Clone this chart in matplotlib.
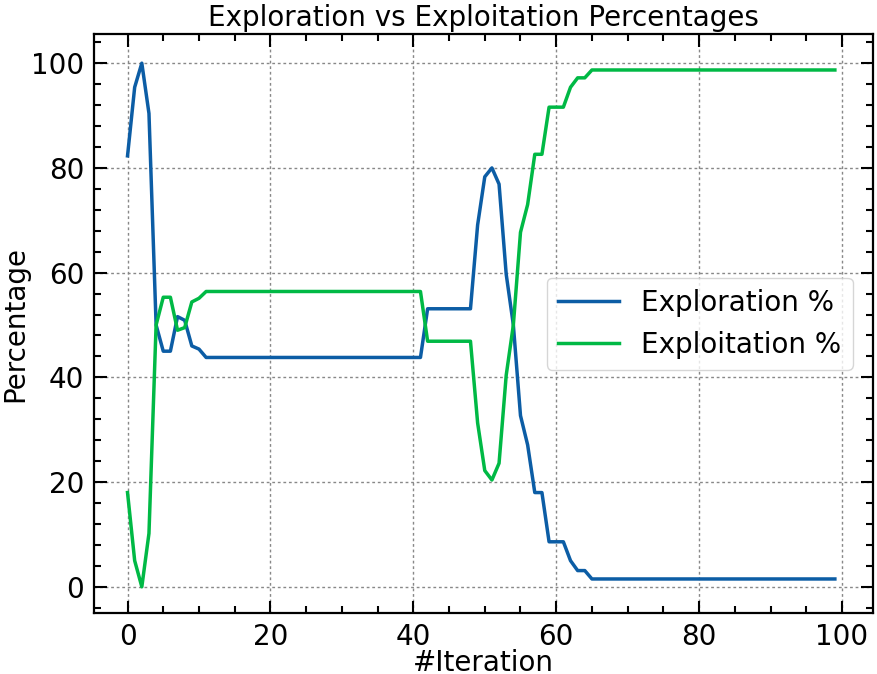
import numpy as np
import matplotlib.pyplot as plt
from matplotlib.ticker import MultipleLocator

# --- data ---
iterations = np.arange(100)

exploration_head = [82.3, 95.4, 100.0, 90.4, 50.0, 45.0, 45.0, 51.6, 50.9, 46.0, 45.4]
exploitation_head = [18.0, 5.0, 0.0, 10.2, 50.0, 55.3, 55.3, 49.0, 49.5, 54.4, 55.1]

# flat stretch, iterations 11..41
exploration_plateau = [43.8] * 31
exploitation_plateau = [56.4] * 31

# iterations 42..65
exploration_mid = [53.1, 53.1, 53.1, 53.1, 53.1, 53.1, 53.1, 69.1, 78.3, 80.0, 76.9, 59.7,
                   50.0, 32.7, 27.1, 18.0, 18.0, 8.6, 8.6, 8.6, 5.0, 3.1, 3.1, 1.5]
exploitation_mid = [46.9, 46.9, 46.9, 46.9, 46.9, 46.9, 46.9, 31.3, 22.2, 20.4, 23.6, 40.4,
                    50.0, 67.7, 73.0, 82.6, 82.6, 91.6, 91.6, 91.6, 95.4, 97.2, 97.2, 98.7]

# iterations 66..99
exploration_tail = [1.5] * 34
exploitation_tail = [98.7] * 34

exploration = exploration_head + exploration_plateau + exploration_mid + exploration_tail
exploitation = exploitation_head + exploitation_plateau + exploitation_mid + exploitation_tail

# --- plot ---
plt.rcParams['font.family'] = ['DejaVu Sans']
plt.rcParams['font.size'] = 20

fig = plt.figure(figsize=(8.78, 6.74), dpi=100)
ax = fig.add_axes([0.107, 0.0905, 0.887, 0.8585])

ax.plot(iterations, exploration, color='#0C5DA5', lw=2.5, label='Exploration %')
ax.plot(iterations, exploitation, color='#00B945', lw=2.5, label='Exploitation %')

ax.set_xlim(-4.7, 104.3)
ax.set_ylim(-5, 105.5)
ax.xaxis.set_major_locator(MultipleLocator(20))
ax.xaxis.set_minor_locator(MultipleLocator(5))
ax.yaxis.set_major_locator(MultipleLocator(20))
ax.yaxis.set_minor_locator(MultipleLocator(4))
ax.tick_params(which='both', direction='in', top=True, right=True, width=1.5)
ax.tick_params(which='major', length=9, labelsize=20, pad=7)
ax.tick_params(which='minor', length=5)
for s in ax.spines.values():
    s.set_linewidth(1.6)

ax.grid(True, which='major', linestyle=(0, (2, 2)), color='#888888', lw=1.0)

ax.set_xlabel('#Iteration', fontsize=20, labelpad=-1)
ax.set_ylabel('Percentage', fontsize=20, labelpad=1)
ax.set_title('Exploration vs Exploitation Percentages', fontsize=20, pad=6)
ax.legend(loc='center right', fontsize=20, bbox_to_anchor=(0.992, 0.5), handlelength=2.2)

fig.savefig('out.png', dpi=100)
